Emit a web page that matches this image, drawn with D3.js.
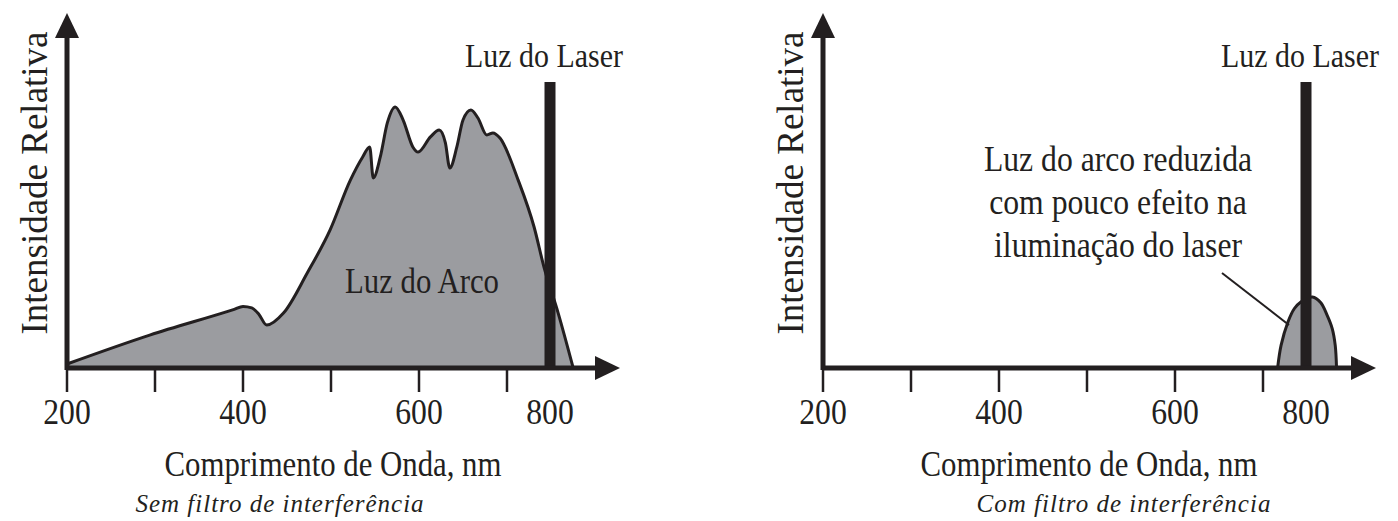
<!DOCTYPE html>
<html>
<head>
<meta charset="utf-8">
<script src="https://cdn.jsdelivr.net/npm/d3@7"></script>
<style>
  body { margin: 0; background: #fff; }
  svg text { font-family: "Liberation Serif", "Times New Roman", serif; fill: #231f20; }
</style>
</head>
<body>
<svg id="chart" width="1398" height="521"></svg>
<script>
// ---- data ----
var tickValues = [200, 300, 400, 500, 600, 700];
var tickLabels = [200, 400, 600, 800];
var laserNm = 800;
var laserLevel = 100;

// arc light spectrum, no filter (nm, relative intensity)
var arcNm = [200, 294, 390, 400, 410, 418, 427, 446, 473, 499, 522, 536, 544, 548, 556,
             564, 573, 582, 593, 599, 613, 623, 630, 635, 643, 650, 659, 667, 677,
             684, 692, 726, 763, 786, 819, 854];
var arcLevel = [1.4, 11.5, 20.5, 21.5, 21.0, 18.8, 15.0, 19.2, 33.2, 48.3, 65.7, 73.8, 77.3, 66.4, 73.8,
                85.7, 91.3, 86.7, 77.3, 75.5, 80.8, 83.2, 78.7, 69.9, 77.3, 86.7, 90.2, 87.4, 81.5,
                82.2, 80.4, 65.7, 49.3, 35.3, 19.2, 0];

// arc light left after interference filter
var filtNm = [734, 742, 758, 773, 788, 815, 834, 849, 861, 868, 871];
var filtLevel = [0, 7.9, 16.1, 20.8, 23.1, 24.8, 22.9, 18.5, 13.8, 7.9, 0];

var panels = [
    {x0: 67, title: "Sem filtro de interferência", captionDx: 213,
     nm: arcNm, level: arcLevel, curve: d3.curveMonotoneX, arcLabel: "Luz do Arco"},
    {x0: 823, title: "Com filtro de interferência", captionDx: 301,
     nm: filtNm, level: filtLevel, curve: d3.curveCatmullRom.alpha(0.5),
     note: ["Luz do arco reduzida", "com pouco efeito na", "iluminação do laser"]}
];

var INK = "#231f20";
var FILL = "#9b9ca0";
var AXIS_Y = 368;
var TOP_Y = 13;
var SX = 0.88; // the source type is a little narrow
var svg = d3.select("#chart");

// horizontal label, squeezed sideways round its anchor point
function label(g, x, y, size, txt) {
    return g.append("text")
        .attr("transform", "translate(" + x + "," + y + ") scale(" + SX + ",1)")
        .attr("text-anchor", "middle").attr("font-size", size)
        .text(txt);
}

panels.forEach(function(p) {
    var g = svg.append("g");
    // piecewise scale: ticks every 100 nm up to 700, laser (800) sits closer
    var x = d3.scaleLinear().domain([200, 700, 800]).range([p.x0, p.x0 + 440, p.x0 + 483]);
    var y = d3.scaleLinear().domain([0, 100]).range([AXIS_Y, 82]);
    var pts = p.nm.map(function(n, i) { return [n, p.level[i]]; });

    var area = d3.area()
        .x(function(d) { return x(d[0]); })
        .y0(y(0))
        .y1(function(d) { return y(d[1]); })
        .curve(p.curve);
    var line = d3.line()
        .x(function(d) { return x(d[0]); })
        .y(function(d) { return y(d[1]); })
        .curve(p.curve);

    g.append("path").attr("d", area(pts)).attr("fill", FILL);
    g.append("path").attr("d", line(pts))
        .attr("fill", "none").attr("stroke", INK).attr("stroke-width", 3)
        .attr("stroke-linejoin", "round");

    // laser line
    g.append("rect")
        .attr("x", x(laserNm) - 5.5).attr("width", 11)
        .attr("y", y(laserLevel)).attr("height", y(0) - y(laserLevel))
        .attr("fill", INK);
    label(g, x(laserNm) - 6, 67, 34, "Luz do Laser");

    // axes with arrows
    var xEnd = p.x0 + 553;
    g.append("line").attr("x1", p.x0).attr("x2", xEnd - 20)
        .attr("y1", AXIS_Y).attr("y2", AXIS_Y)
        .attr("stroke", INK).attr("stroke-width", 5);
    g.append("path")
        .attr("d", "M" + xEnd + "," + AXIS_Y + "L" + (xEnd - 25) + "," + (AXIS_Y - 12) +
                   "L" + (xEnd - 25) + "," + (AXIS_Y + 12) + "Z")
        .attr("fill", INK);
    g.append("line").attr("x1", p.x0).attr("x2", p.x0)
        .attr("y1", AXIS_Y + 2).attr("y2", TOP_Y + 20)
        .attr("stroke", INK).attr("stroke-width", 5);
    g.append("path")
        .attr("d", "M" + p.x0 + "," + TOP_Y + "L" + (p.x0 - 12) + "," + (TOP_Y + 25) +
                   "L" + (p.x0 + 12) + "," + (TOP_Y + 25) + "Z")
        .attr("fill", INK);

    // ticks
    g.selectAll(".tick").data(tickValues).enter().append("line")
        .attr("x1", function(d) { return x(d); }).attr("x2", function(d) { return x(d); })
        .attr("y1", AXIS_Y).attr("y2", AXIS_Y + 24)
        .attr("stroke", INK).attr("stroke-width", 2.5);
    tickLabels.forEach(function(d) { label(g, x(d), 424, 36, d); });

    // axis titles
    g.append("text")
        .attr("transform", "translate(" + (p.x0 - 20) + ",183) rotate(-90)")
        .attr("text-anchor", "middle").attr("font-size", 37)
        .text("Intensidade Relativa");
    label(g, p.x0 + 266, 476, 35, "Comprimento de Onda, nm");
    g.append("text")
        .attr("x", p.x0 + p.captionDx).attr("y", 512)
        .attr("text-anchor", "middle").attr("font-size", 25)
        .attr("font-style", "italic").attr("letter-spacing", 1)
        .text(p.title);

    if (p.arcLabel) label(g, 422, 293, 35, p.arcLabel);
    if (p.note) {
        p.note.forEach(function(d, i) { label(g, 1118, 171 + i * 43, 36, d); });
        // leader line to the filtered bump
        var tip = pts[2];
        g.append("line")
            .attr("x1", 1222).attr("y1", 273)
            .attr("x2", x(tip[0]) + 1).attr("y2", y(tip[1]) + 3)
            .attr("stroke", INK).attr("stroke-width", 2);
    }
});
</script>
</body>
</html>
